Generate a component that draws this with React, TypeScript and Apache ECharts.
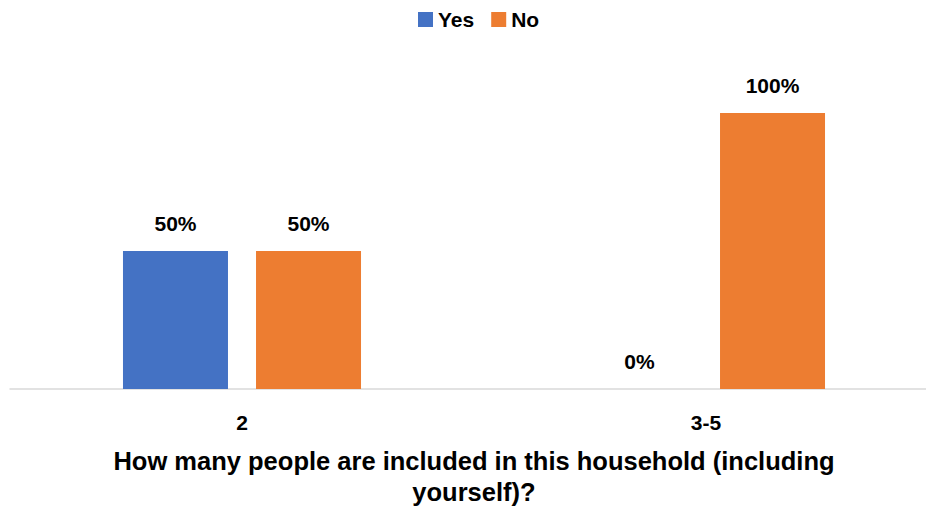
import React, { useEffect, useRef } from "react";
import * as echarts from "echarts";

const categories = ["2", "3-5"];
const seriesNames = ["Yes", "No"];
const yesValues = [50, 0];
const noValues = [50, 100];
const axisTitle = "How many people are included in this household (including\nyourself)?";

const FONT = "'Liberation Sans', Arial, sans-serif";

export default function App() {
  const ref = useRef<HTMLDivElement>(null);
  useEffect(() => {
    if (!ref.current) return;
    const chart = echarts.init(ref.current, null, { renderer: "svg" });
    const label = {
      show: true,
      position: "top",
      distance: 17,
      formatter: "{c}%",
      fontFamily: FONT,
      fontWeight: "bold",
      fontSize: 21,
      color: "#000",
    };
    chart.setOption({
      animation: false,
      backgroundColor: "#ffffff",
      textStyle: { fontFamily: FONT },
      legend: {
        data: seriesNames,
        left: 413,
        top: 4,
        icon: "rect",
        itemWidth: 15,
        itemHeight: 15,
        itemGap: 17,
        textStyle: { fontFamily: FONT, fontWeight: "bold", fontSize: 21, color: "#000" },
      },
      grid: { left: 10, top: 113, width: 928, height: 276, containLabel: false },
      xAxis: {
        type: "category",
        data: categories,
        axisLine: { show: true, lineStyle: { color: "#d9d9d9", width: 1.5 } },
        axisTick: { show: false },
        axisLabel: { fontFamily: FONT, fontWeight: "bold", fontSize: 21, color: "#000", margin: 23 },
        name: axisTitle,
        nameLocation: "middle",
        nameGap: 56,
        nameTextStyle: { fontFamily: FONT, fontWeight: "bold", fontSize: 25.5, color: "#000", lineHeight: 31 },
      },
      yAxis: { type: "value", min: 0, max: 100, show: false, splitLine: { show: false } },
      series: [
        {
          name: seriesNames[0],
          type: "bar",
          data: yesValues,
          barWidth: 105,
          barGap: "26.7%",
          itemStyle: { color: "#4472C4" },
          label,
        },
        {
          name: seriesNames[1],
          type: "bar",
          data: noValues,
          barWidth: 105,
          barGap: "26.7%",
          itemStyle: { color: "#ED7D31" },
          label,
        },
      ],
    });
    return () => chart.dispose();
  }, []);
  return (
    <div
      style={{ position: "absolute", left: 0, top: 0, width: 926, height: 512, overflow: "hidden", background: "#fff" }}
    >
      <div ref={ref} style={{ width: 940, height: 512 }} />
    </div>
  );
}
